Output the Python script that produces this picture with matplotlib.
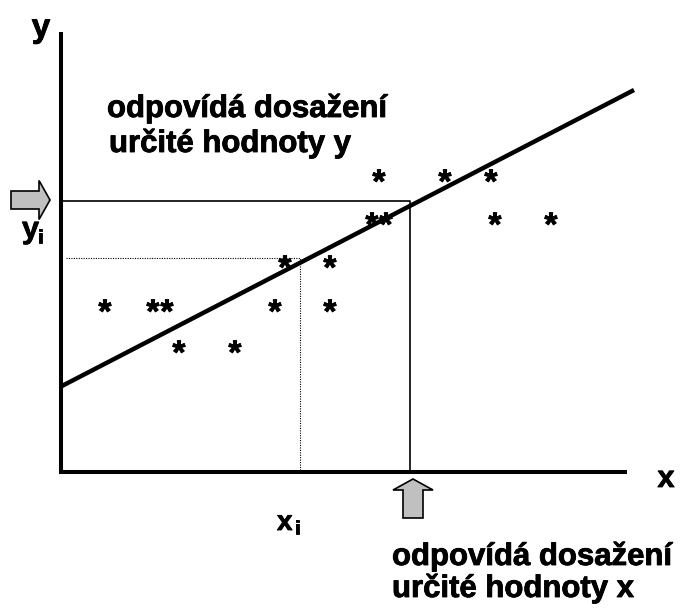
import matplotlib.pyplot as plt
import matplotlib.patheffects as pe
from matplotlib.patches import FancyArrow

# pixel-like coordinates of the schematic (y grows downward)
star_x = [105, 153, 167, 179, 235, 275, 330, 285, 330, 379, 445, 491, 372, 386, 495, 551]
star_y = [307, 307, 307, 348, 348, 307, 307, 263, 263, 177, 177, 177, 220, 220, 220, 220]

line_x = [60, 634]
line_y = [387, 90]

x_sel, y_sel = 410, 201    # solid guide lines
x_i, y_i = 300, 258        # dotted guide lines

fig = plt.figure(figsize=(6.82, 6.08), dpi=100)
ax = fig.add_axes([0, 0, 1, 1])
ax.set_xlim(0, 682)
ax.set_ylim(608, 0)
ax.axis('off')

# axes
ax.plot([61, 61], [32, 473], color='black', lw=2.9, solid_capstyle='butt')
ax.plot([59, 627], [471.5, 471.5], color='black', lw=2.9, solid_capstyle='butt')

# regression line
ax.plot(line_x, line_y, color='black', lw=3.2, solid_capstyle='butt')

# guides
ax.plot([61, x_sel, x_sel], [y_sel, y_sel, 471], color='black', lw=1.2)
ax.plot([66, x_i, x_i], [y_i, y_i, 471], color='black', lw=0.8, ls=(0, (1, 1.2)))

bold = [pe.withStroke(linewidth=0.6, foreground='black')]

# data points
for sx, sy in zip(star_x, star_y):
    ax.text(sx, sy + 7, '*', fontsize=24, fontweight='bold', family='Liberation Sans',
            ha='center', va='center', path_effects=bold)

# arrows
ax.add_patch(FancyArrow(11, 200, 39, 0, width=18, head_width=39, head_length=11,
                        length_includes_head=True, fc='#c0c0c0', ec='black', lw=1.2))
ax.add_patch(FancyArrow(413, 518, 0, -39, width=20, head_width=40, head_length=11,
                        length_includes_head=True, fc='#c0c0c0', ec='black', lw=1.2))

# labels
lab = dict(fontweight='bold', family='Liberation Sans', color='black', path_effects=bold)
ax.text(41, 37, 'y', fontsize=24, ha='center', va='baseline', **lab)
ax.text(666, 487, 'x', fontsize=22, ha='center', va='baseline', **lab)
ax.text(22, 238, 'y', fontsize=22, ha='left', va='baseline', **lab)
ax.text(38, 243, 'i', fontsize=14, ha='left', va='baseline', **lab)
ax.text(277, 530, 'x', fontsize=20, ha='left', va='baseline', **lab)
ax.text(295, 534, 'i', fontsize=14, ha='left', va='baseline', **lab)

ax.text(107, 117, 'odpovídá dosažení', fontsize=22.4, ha='left', va='baseline', **lab)
ax.text(109, 152, 'určité hodnoty y', fontsize=22.4, ha='left', va='baseline', **lab)
ax.text(392, 565, 'odpovídá dosažení', fontsize=22.4, ha='left', va='baseline', **lab)
ax.text(392, 597, 'určité hodnoty x', fontsize=22.4, ha='left', va='baseline', **lab)

fig.savefig('out.png', dpi=100)
